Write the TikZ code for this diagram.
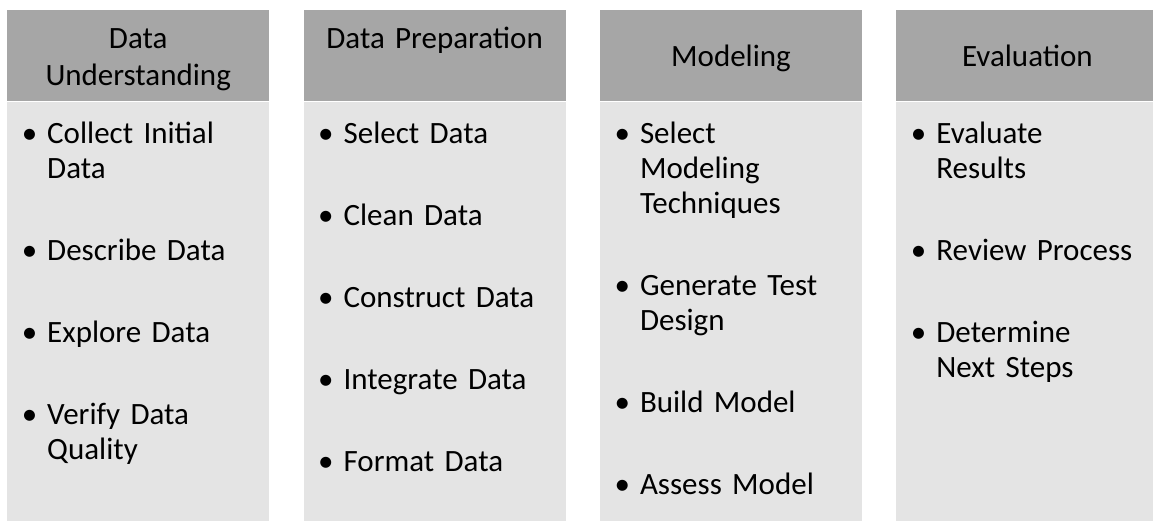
\documentclass[tikz,border=0pt]{standalone}
\usepackage{fontspec}
\setmainfont{Carlito}
\usepackage{enumitem}
\usetikzlibrary{positioning}

\definecolor{headgray}{HTML}{A6A6A6}
\definecolor{bodygray}{HTML}{E4E4E4}

\newlist{tasklist}{itemize}{1}
\setlist[tasklist]{label=\textbullet, leftmargin=40pt, labelsep=10pt,
  itemsep=47pt, parsep=0pt, topsep=0pt, partopsep=0pt}

\begin{document}
\begin{tikzpicture}[x=1pt, y=1pt,
    phase/.style={fill=headgray, minimum width=262pt, minimum height=91pt, inner sep=0pt},
    tasks/.style={fill=bodygray, minimum width=262pt, minimum height=430pt, inner sep=0pt},
    phasetext/.style={text width=262pt, align=center, inner sep=0pt, anchor=base,
      font=\fontsize{31pt}{37pt}\selectfont},
    tasktext/.style={text width=262pt, align=left, inner sep=0pt, anchor=base west,
      font=\fontsize{31pt}{35pt}\selectfont}]
  \useasboundingbox (0,0) rectangle (1153,-520);
  \clip (0,0) rectangle (1153,-520);

  % header boxes
  \node[phase, anchor=north west] (P1) at (7,-10) {};
  \node[phase, right=34pt of P1] (P2) {};
  \node[phase, right=34pt of P2] (P3) {};
  \node[phase, right=34pt of P3] (P4) {};

  % body boxes
  \node[tasks, below=0pt of P1] (T1) {};
  \node[tasks, below=0pt of P2] (T2) {};
  \node[tasks, below=0pt of P3] (T3) {};
  \node[tasks, below=0pt of P4] (T4) {};

  % phase names
  \node[phasetext] (L1) at ([yshift=-38pt]P1.north) {Data\\Understanding};
  \node[phasetext] (L2) at ([yshift=-38pt]P2.north) {Data Preparation};
  \node[phasetext] (L3) at ([yshift=-56pt]P3.north) {Modeling};
  \node[phasetext] (L4) at ([yshift=-56pt]P4.north) {Evaluation};

  % tasks
  \node[tasktext] (I1) at ([yshift=-7pt]T1.north west) {%
    \begin{tasklist}
      \item Collect Initial\\Data
      \item Describe Data
      \item Explore Data
      \item Verify Data\\Quality
    \end{tasklist}};
  \node[tasktext] (I2) at ([yshift=-7pt]T2.north west) {%
    \begin{tasklist}
      \item Select Data
      \item Clean Data
      \item Construct Data
      \item Integrate Data
      \item Format Data
    \end{tasklist}};
  \node[tasktext] (I3) at ([yshift=-7pt]T3.north west) {%
    \begin{tasklist}
      \item Select\\Modeling\\Techniques
      \item Generate Test\\Design
      \item Build Model
      \item Assess Model
    \end{tasklist}};
  \node[tasktext] (I4) at ([yshift=-7pt]T4.north west) {%
    \begin{tasklist}
      \item Evaluate\\Results
      \item Review Process
      \item Determine\\Next Steps
    \end{tasklist}};
\end{tikzpicture}
\end{document}
